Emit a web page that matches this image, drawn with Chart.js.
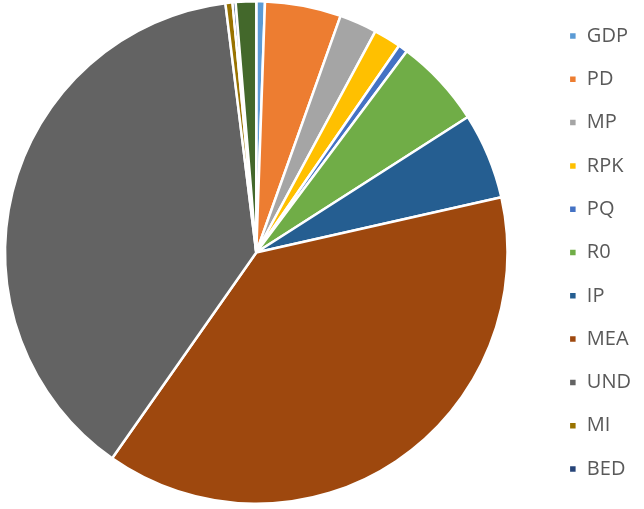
<!doctype html>
<html>
<head>
<meta charset="utf-8">
<script src="https://cdn.jsdelivr.net/npm/chart.js@4.4.0/dist/chart.umd.min.js"></script>
<style>
  html, body { margin: 0; background: #fff; overflow: hidden; }
  /* canvas a bit wider than the window, shifted left, so the pie sits
     left of the area's centre and leaves a gap before the legend */
  #wrap { width: 677px; height: 509px; margin-left: -33px; }
</style>
</head>
<body>
<div id="wrap"><canvas id="chart"></canvas></div>
<script>
// categories and shares (%), clockwise from 12 o'clock
var etiquetas = ['GDP', 'PD', 'MP', 'RPK', 'PQ', 'R0', 'IP', 'MEA', 'UND', 'MI', 'BED', 'OTH'];
var valores = [0.55, 4.86, 2.4, 1.75, 0.6, 5.67, 5.5, 38.0, 38.06, 0.45, 0.2, 1.3];
var colores = ['#5B9BD5', '#ED7D31', '#A5A5A5', '#FFC000', '#4472C4', '#70AD47',
               '#255E91', '#9E480E', '#636363', '#997300', '#264478', '#43682B'];
// only the first 11 appear in the legend of the original
var enLeyenda = 11;

new Chart(document.getElementById('chart'), {
  type: 'pie',
  data: {
    labels: etiquetas,
    datasets: [{
      data: valores,
      backgroundColor: colores,
      borderColor: '#ffffff',
      borderWidth: 2.5
    }]
  },
  options: {
    responsive: true,
    maintainAspectRatio: false,
    animation: false,
    layout: { padding: { top: 0, bottom: 4, left: 0, right: 3 } },
    plugins: {
      tooltip: { enabled: false },
      legend: {
        position: 'right',
        labels: {
          boxWidth: 8,
          boxHeight: 8,
          padding: 23.3,
          color: '#595959',
          font: { family: 'Open Sans', size: 20 },
          filter: function (item) { return item.index < enLeyenda; }
        }
      }
    }
  }
});
</script>
</body>
</html>
